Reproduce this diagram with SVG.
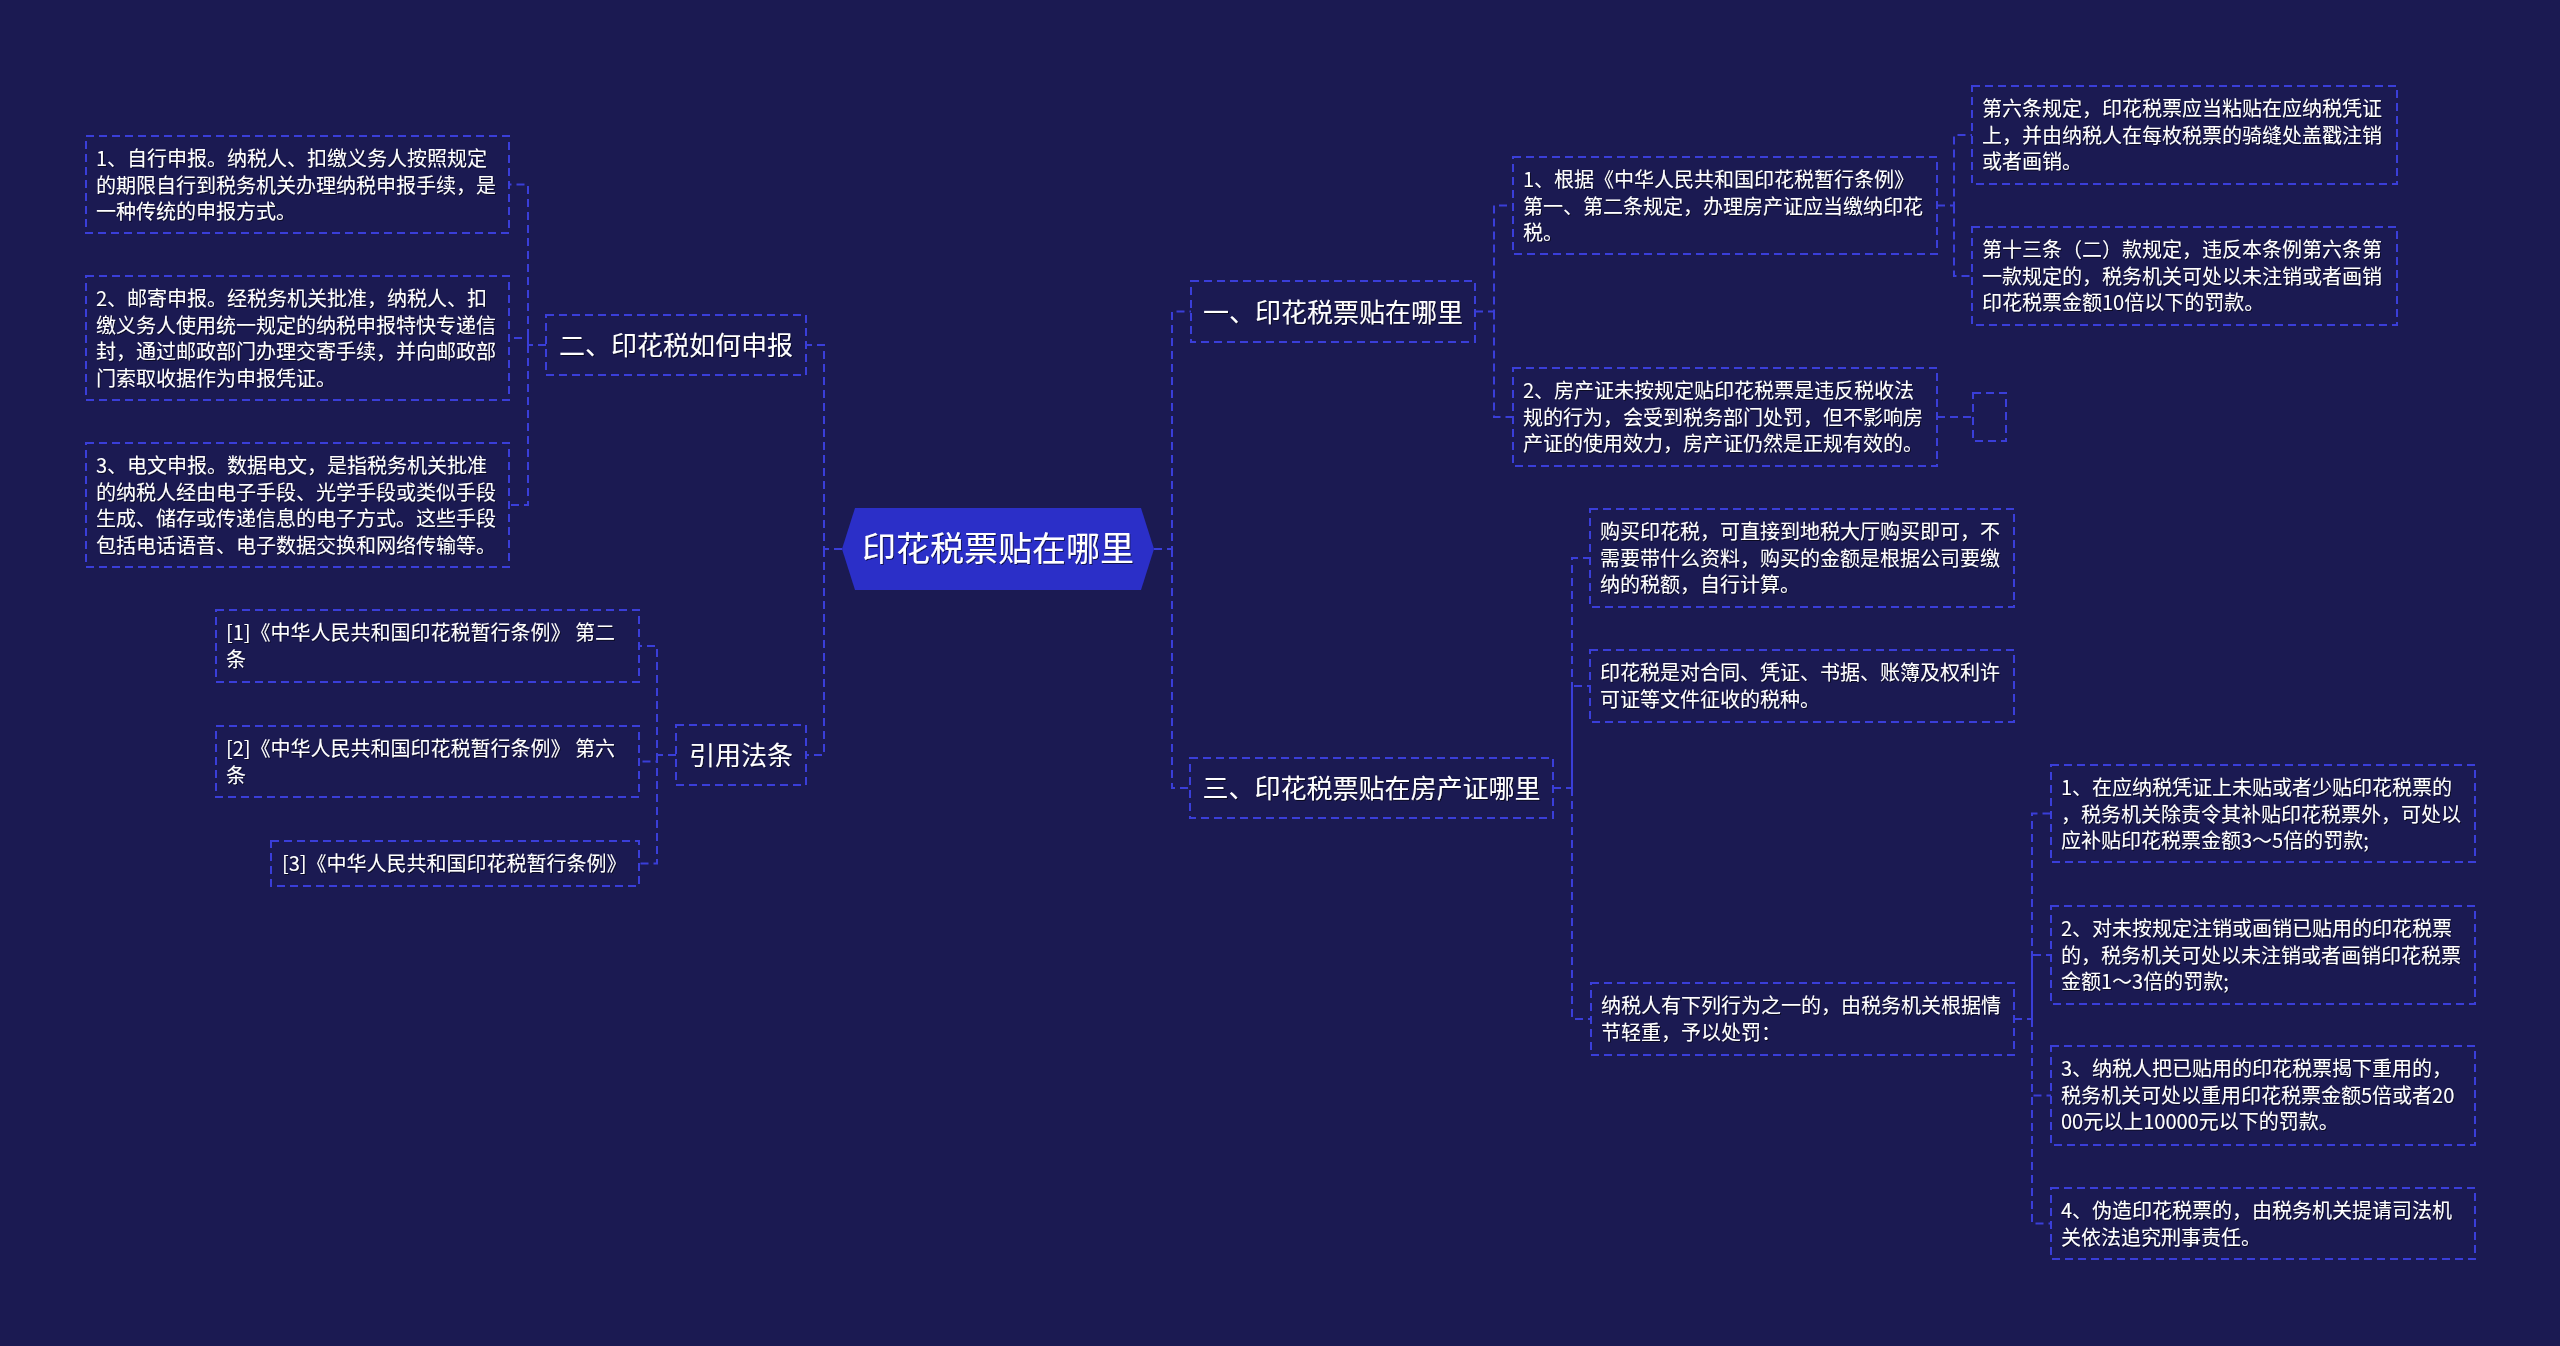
<svg xmlns="http://www.w3.org/2000/svg" width="2560" height="1346" viewBox="0 0 2560 1346">
<defs>
<filter id="sh" x="-5%" y="-20%" width="110%" height="140%">
<feDropShadow dx="1" dy="1" stdDeviation="0.6" flood-color="#000000" flood-opacity="0.6"/>
</filter>
</defs>
<style>
.bg{fill:#1b1a52}
.box{fill:none;stroke:#3a3ed8;stroke-width:2;stroke-dasharray:8 5}
.con{fill:none;stroke:#3a3ed8;stroke-width:2;stroke-dasharray:8 5}
.t{font-family:"Noto Sans CJK SC","Noto Sans",sans-serif;fill:#ffffff;font-size:20px;filter:url(#sh)}
.b{font-family:"Noto Sans CJK SC","Noto Sans",sans-serif;fill:#ffffff;font-size:26px;text-anchor:middle;filter:url(#sh)}
.c{font-family:"Noto Sans CJK SC","Noto Sans",sans-serif;fill:#ffffff;font-size:34px;text-anchor:middle;filter:url(#sh)}
.root{fill:#2b2fc8}
</style>
<rect class="bg" x="0" y="0" width="2560" height="1346"/>
<g id="connectors">
<path class="con" d="M842,549 H824 V345 H806"/>
<path class="con" d="M824,549 V755 H806"/>
<path class="con" d="M546,345 H528 V184.5 H509"/>
<path class="con" d="M528,345 V338 H509"/>
<path class="con" d="M528,345 V505 H509"/>
<path class="con" d="M676,755 H657 V646 H639"/>
<path class="con" d="M657,755 V761.5 H639"/>
<path class="con" d="M657,755 V863.5 H639"/>
<path class="con" d="M1154,549 H1172 V311.5 H1191"/>
<path class="con" d="M1172,549 V788 H1190"/>
<path class="con" d="M1475,311.5 H1494 V205.5 H1513"/>
<path class="con" d="M1494,311.5 V417 H1513"/>
<path class="con" d="M1937,205.5 H1954 V135 H1972"/>
<path class="con" d="M1954,205.5 V276 H1972"/>
<path class="con" d="M1937,417 H1972"/>
<path class="con" d="M1553,788 H1572 V558 H1590"/>
<path class="con" d="M1572,788 V686 H1590"/>
<path class="con" d="M1572,788 V1019 H1591"/>
<path class="con" d="M2014,1019 H2032 V813.5 H2051"/>
<path class="con" d="M2032,1019 V955 H2051"/>
<path class="con" d="M2032,1019 V1095.5 H2051"/>
<path class="con" d="M2032,1019 V1223.5 H2051"/>
</g>
<g id="root">
<polygon class="root" points="842,549 855,508 1141,508 1154,549 1141,590 855,590"/>
<text class="c" x="998" y="561">印花税票贴在哪里</text>
</g>
<g id="n-er">
<rect class="box" x="546" y="315" width="260" height="60"/>
<text class="b" x="676" y="354.5">二、印花税如何申报</text>
</g>
<g id="n-er-1">
<rect class="box" x="86" y="136" width="423" height="97"/>
<text class="t"><tspan x="96" y="166">1、自行申报。纳税人、扣缴义务人按照规定</tspan><tspan x="96" y="192.5">的期限自行到税务机关办理纳税申报手续，是</tspan><tspan x="96" y="219">一种传统的申报方式。</tspan></text>
</g>
<g id="n-er-2">
<rect class="box" x="86" y="276" width="423" height="124"/>
<text class="t"><tspan x="96" y="306">2、邮寄申报。经税务机关批准，纳税人、扣</tspan><tspan x="96" y="332.5">缴义务人使用统一规定的纳税申报特快专递信</tspan><tspan x="96" y="359">封，通过邮政部门办理交寄手续，并向邮政部</tspan><tspan x="96" y="385.5">门索取收据作为申报凭证。</tspan></text>
</g>
<g id="n-er-3">
<rect class="box" x="86" y="443" width="423" height="124"/>
<text class="t"><tspan x="96" y="473">3、电文申报。数据电文，是指税务机关批准</tspan><tspan x="96" y="499.5">的纳税人经由电子手段、光学手段或类似手段</tspan><tspan x="96" y="526">生成、储存或传递信息的电子方式。这些手段</tspan><tspan x="96" y="552.5">包括电话语音、电子数据交换和网络传输等。</tspan></text>
</g>
<g id="n-ref">
<rect class="box" x="676" y="725" width="130" height="60"/>
<text class="b" x="741" y="764.5">引用法条</text>
</g>
<g id="n-ref-1">
<rect class="box" x="216" y="610" width="423" height="72"/>
<text class="t"><tspan x="226" y="640">[1]《中华人民共和国印花税暂行条例》 第二</tspan><tspan x="226" y="666.5">条</tspan></text>
</g>
<g id="n-ref-2">
<rect class="box" x="216" y="726" width="423" height="71"/>
<text class="t"><tspan x="226" y="756">[2]《中华人民共和国印花税暂行条例》 第六</tspan><tspan x="226" y="782.5">条</tspan></text>
</g>
<g id="n-ref-3">
<rect class="box" x="271" y="841" width="368" height="45"/>
<text class="t"><tspan x="282" y="871">[3]《中华人民共和国印花税暂行条例》</tspan></text>
</g>
<g id="n-yi">
<rect class="box" x="1191" y="281" width="284" height="61"/>
<text class="b" x="1333" y="321.5">一、印花税票贴在哪里</text>
</g>
<g id="n-yi-1">
<rect class="box" x="1513" y="157" width="424" height="97"/>
<text class="t"><tspan x="1523" y="187">1、根据《中华人民共和国印花税暂行条例》</tspan><tspan x="1523" y="213.5">第一、第二条规定，办理房产证应当缴纳印花</tspan><tspan x="1523" y="240">税。</tspan></text>
</g>
<g id="n-yi-1-a">
<rect class="box" x="1972" y="86" width="425" height="98"/>
<text class="t"><tspan x="1982" y="116">第六条规定，印花税票应当粘贴在应纳税凭证</tspan><tspan x="1982" y="142.5">上，并由纳税人在每枚税票的骑缝处盖戳注销</tspan><tspan x="1982" y="169">或者画销。</tspan></text>
</g>
<g id="n-yi-1-b">
<rect class="box" x="1972" y="227" width="425" height="98"/>
<text class="t"><tspan x="1982" y="257">第十三条（二）款规定，违反本条例第六条第</tspan><tspan x="1982" y="283.5">一款规定的，税务机关可处以未注销或者画销</tspan><tspan x="1982" y="310">印花税票金额10倍以下的罚款。</tspan></text>
</g>
<g id="n-yi-2">
<rect class="box" x="1513" y="368" width="424" height="98"/>
<text class="t"><tspan x="1523" y="398">2、房产证未按规定贴印花税票是违反税收法</tspan><tspan x="1523" y="424.5">规的行为，会受到税务部门处罚，但不影响房</tspan><tspan x="1523" y="451">产证的使用效力，房产证仍然是正规有效的。</tspan></text>
</g>
<g id="n-yi-2-a">
<rect class="box" x="1973" y="393" width="33" height="48"/>
</g>
<g id="n-san">
<rect class="box" x="1190" y="758" width="363" height="60"/>
<text class="b" x="1371.5" y="797.5">三、印花税票贴在房产证哪里</text>
</g>
<g id="n-san-1">
<rect class="box" x="1590" y="509" width="424" height="98"/>
<text class="t"><tspan x="1600" y="539">购买印花税，可直接到地税大厅购买即可，不</tspan><tspan x="1600" y="565.5">需要带什么资料，购买的金额是根据公司要缴</tspan><tspan x="1600" y="592">纳的税额，自行计算。</tspan></text>
</g>
<g id="n-san-2">
<rect class="box" x="1590" y="650" width="424" height="72"/>
<text class="t"><tspan x="1600" y="680">印花税是对合同、凭证、书据、账簿及权利许</tspan><tspan x="1600" y="706.5">可证等文件征收的税种。</tspan></text>
</g>
<g id="n-san-3">
<rect class="box" x="1591" y="983" width="423" height="72"/>
<text class="t"><tspan x="1601" y="1013">纳税人有下列行为之一的，由税务机关根据情</tspan><tspan x="1601" y="1039.5">节轻重，予以处罚：</tspan></text>
</g>
<g id="n-san-3-1">
<rect class="box" x="2051" y="765" width="424" height="97"/>
<text class="t"><tspan x="2061" y="795">1、在应纳税凭证上未贴或者少贴印花税票的</tspan><tspan x="2061" y="821.5">，税务机关除责令其补贴印花税票外，可处以</tspan><tspan x="2061" y="848">应补贴印花税票金额3～5倍的罚款;</tspan></text>
</g>
<g id="n-san-3-2">
<rect class="box" x="2051" y="906" width="424" height="98"/>
<text class="t"><tspan x="2061" y="936">2、对未按规定注销或画销已贴用的印花税票</tspan><tspan x="2061" y="962.5">的，税务机关可处以未注销或者画销印花税票</tspan><tspan x="2061" y="989">金额1～3倍的罚款;</tspan></text>
</g>
<g id="n-san-3-3">
<rect class="box" x="2051" y="1046" width="424" height="99"/>
<text class="t"><tspan x="2061" y="1076">3、纳税人把已贴用的印花税票揭下重用的，</tspan><tspan x="2061" y="1102.5">税务机关可处以重用印花税票金额5倍或者20</tspan><tspan x="2061" y="1129">00元以上10000元以下的罚款。</tspan></text>
</g>
<g id="n-san-3-4">
<rect class="box" x="2051" y="1188" width="424" height="71"/>
<text class="t"><tspan x="2061" y="1218">4、伪造印花税票的，由税务机关提请司法机</tspan><tspan x="2061" y="1244.5">关依法追究刑事责任。</tspan></text>
</g>
</svg>
